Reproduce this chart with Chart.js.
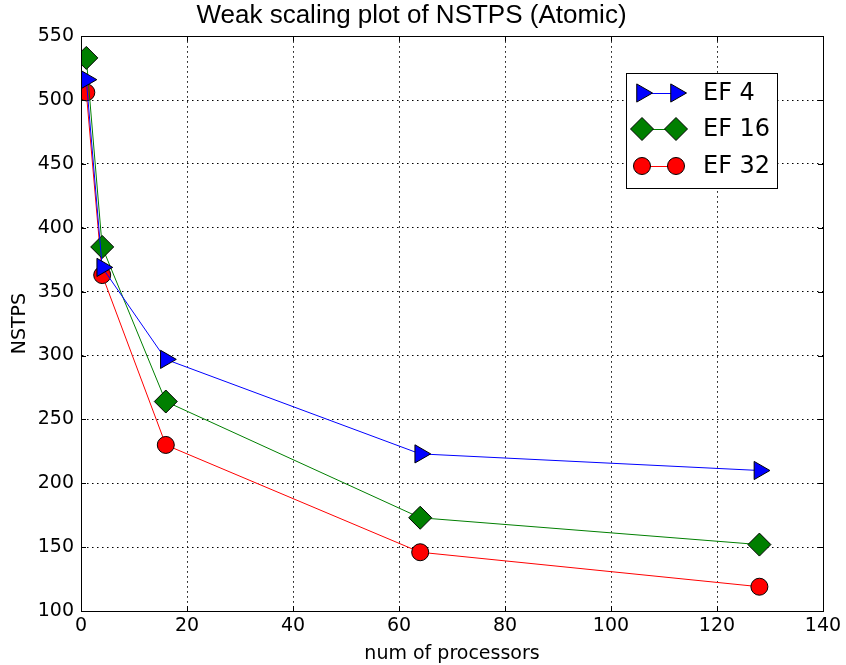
<!DOCTYPE html>
<html>
<head>
<meta charset="utf-8">
<script src="https://cdn.jsdelivr.net/npm/chart.js@4/dist/chart.umd.min.js"></script>
<style>
html,body{margin:0;padding:0;background:#fff;}
#wrap{width:846px;height:665px;}
</style>
</head>
<body>
<div id="wrap"><canvas id="c" width="846" height="665"></canvas></div>
<script>
const processors = [1, 4, 16, 64, 128];
const ef4  = [516, 369, 297, 223, 210];
const ef16 = [533, 385, 264, 173, 152];
const ef32 = [506, 363, 230, 146, 119];
const seriesNames = ['EF 4', 'EF 16', 'EF 32'];
const xTicks = [0, 20, 40, 60, 80, 100, 120, 140];
const yTicks = [100, 150, 200, 250, 300, 350, 400, 450, 500, 550];

const FONT = "'DejaVu Sans', sans-serif";

function pts(vals){ return processors.map((x,i)=>({x:x, y:vals[i]})); }

const styles = [
  {color:'#0000ff', pointStyle:'triangle', rotation:90, radius:10.5},
  {color:'#007f00', pointStyle:'rectRot', rotation:0, radius:11.5},
  {color:'#ff0000', pointStyle:'circle', rotation:0, radius:8.5}
];
const values = [ef4, ef16, ef32];

const datasets = values.map((v,i)=>({
  label: seriesNames[i],
  data: pts(v),
  borderColor: styles[i].color,
  backgroundColor: styles[i].color,
  borderWidth: 1,
  pointStyle: styles[i].pointStyle,
  rotation: styles[i].rotation,
  pointRadius: styles[i].radius,
  pointHoverRadius: styles[i].radius,
  pointBackgroundColor: styles[i].color,
  pointBorderColor: '#000',
  pointBorderWidth: 1,
  tension: 0,
  fill: false
}));

const framePlugin = {
  id: 'frame',
  afterDatasetsDraw(chart){
    const ctx = chart.ctx, a = chart.chartArea;
    const xs = chart.scales.x, ys = chart.scales.y;
    ctx.save();
    ctx.strokeStyle = '#000';
    ctx.lineWidth = 1;
    ctx.setLineDash([]);
    ctx.strokeRect(Math.round(a.left)+0.5, Math.round(a.top)+0.5, Math.round(a.right-a.left), Math.round(a.bottom-a.top));
    ctx.beginPath();
    xTicks.forEach(t=>{
      const px = Math.round(xs.getPixelForValue(t))+0.5;
      ctx.moveTo(px, a.bottom); ctx.lineTo(px, a.bottom-5);
      ctx.moveTo(px, a.top); ctx.lineTo(px, a.top+5);
    });
    yTicks.forEach(t=>{
      const py = Math.round(ys.getPixelForValue(t))+0.5;
      ctx.moveTo(a.left, py); ctx.lineTo(a.left+5, py);
      ctx.moveTo(a.right, py); ctx.lineTo(a.right-5, py);
    });
    ctx.stroke();

    // legend
    const bx = 626, by = 73, bw = 151, bh = 115;
    ctx.fillStyle = '#fff';
    ctx.fillRect(bx, by, bw, bh);
    ctx.strokeRect(bx+0.5, by+0.5, bw, bh);
    const rows = [93, 129, 166];
    chart.data.datasets.forEach((ds,i)=>{
      const y = rows[i];
      const x1 = 642, x2 = 676;
      ctx.strokeStyle = ds.borderColor;
      ctx.lineWidth = 1;
      ctx.beginPath(); ctx.moveTo(x1, y+0.5); ctx.lineTo(x2, y+0.5); ctx.stroke();
      [x1,x2].forEach(x=>{
        ctx.fillStyle = ds.pointBackgroundColor;
        ctx.strokeStyle = ds.pointBorderColor;
        ctx.lineWidth = 1;
        Chart.helpers.drawPoint(ctx, {
          pointStyle: ds.pointStyle, rotation: ds.rotation, radius: ds.pointRadius, borderWidth: 1
        }, x, y);
      });
      ctx.fillStyle = '#000';
      ctx.font = "24px " + FONT;
      ctx.textAlign = 'left';
      ctx.textBaseline = 'middle';
      ctx.fillText(ds.label, 703, y+1);
    });
    ctx.restore();
  }
};

new Chart(document.getElementById('c'), {
  type: 'line',
  data: { datasets },
  options: {
    responsive: false,
    animation: false,
    devicePixelRatio: 1,
    layout: { padding: { left: 0, right: 23, top: 0, bottom: 0 } },
    plugins: {
      legend: { display: false },
      tooltip: { enabled: false },
      title: {
        display: true,
        text: 'Weak scaling plot of NSTPS (Atomic)',
        color: '#000',
        font: { family: "'Liberation Sans', Arial, sans-serif", size: 26, weight: 'normal', lineHeight: 1.2 },
        padding: { top: 0, bottom: 5 }
      }
    },
    scales: {
      x: {
        type: 'linear',
        min: 0, max: 140,
        afterBuildTicks(s){ s.ticks = xTicks.map(v=>({value:v})); },
        afterFit(s){ s.height = 54; },
        ticks: { color:'#000', font:{family:FONT, size:19}, padding: 4, maxRotation:0 },
        grid: { color:'#000', lineWidth:1, drawTicks:false, tickLength:0 },
        border: { display:true, color:'#000', dash:[1.5,3.5] },
        title: { display:true, text:'num of processors', color:'#000', font:{family:FONT, size:19}, padding:{top:2, bottom:0} }
      },
      y: {
        type: 'linear',
        min: 100, max: 550,
        afterBuildTicks(s){ s.ticks = yTicks.map(v=>({value:v})); },
        afterFit(s){ s.width = 81; },
        ticks: { color:'#000', font:{family:FONT, size:19}, padding: 7 },
        grid: { color:'#000', lineWidth:1, drawTicks:false, tickLength:0 },
        border: { display:true, color:'#000', dash:[1.5,3.5] },
        title: { display:true, text:'NSTPS', color:'#000', font:{family:FONT, size:19}, padding:{top:9, bottom:4} }
      }
    }
  },
  plugins: [framePlugin]
});
</script>
</body>
</html>
